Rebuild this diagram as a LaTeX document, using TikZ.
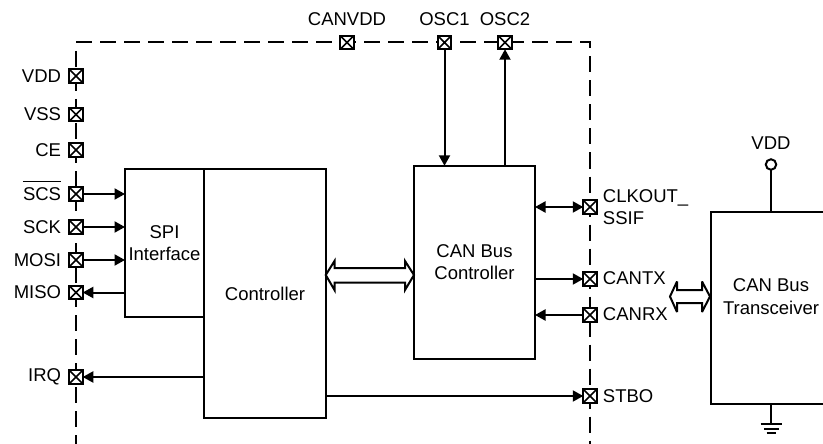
\documentclass[tikz,border=0pt]{standalone}
\usepackage{fontspec}
\setmainfont{Liberation Sans}
\usetikzlibrary{arrows.meta}
\tikzset{
  x=1pt,y=-1pt,
  pin/.style={draw,line width=2pt,fill=white,minimum size=13.5pt,inner sep=0pt,outer sep=0pt,
    path picture={\draw[line width=1.7pt] (path picture bounding box.north west)--(path picture bounding box.south east)
      (path picture bounding box.north east)--(path picture bounding box.south west);}},
  blk/.style={draw,line width=2pt,fill=white,inner sep=0pt,outer sep=0pt,align=center},
  lab/.style={inner sep=0pt,font=\fontsize{18.5}{22.5}\selectfont,align=center},
  sig/.style={line width=2pt,-{Triangle[length=10.5pt,width=11pt]}},
  bisig/.style={line width=2pt,{Triangle[length=10.5pt,width=11pt]}-{Triangle[length=10.5pt,width=11pt]}},
  bound/.style={line width=2pt,dash pattern=on 16pt off 8pt},
  wire/.style={line width=2pt},
  bus/.style={line width=2pt,fill=white,line join=miter,miter limit=4}
}
\begin{document}
\begin{tikzpicture}
\useasboundingbox (0,0) rectangle (823,444);
% boundary
\draw[bound] (76,42.5) -- (590,42.5) -- (590,444);
\draw[bound] (76,51) -- (76,444);
% pins
\foreach \n/\y in {vdd/76,vss/114.5,ce/150,scs/194,sck/227,mosi/260,miso/292.5,irq/377}
  \node[pin] (p\n) at (76,\y) {};
\foreach \n/\x in {canvdd/347,oscone/444.5,osctwo/505}
  \node[pin] (p\n) at (\x,42.5) {};
\foreach \n/\y in {clk/207,tx/279,rx/315,stbo/396}
  \node[pin] (p\n) at (590,\y) {};
% labels left
\foreach \n/\t in {vdd/VDD,vss/VSS,ce/CE,scs/SCS,sck/SCK,mosi/MOSI,miso/MISO,irq/IRQ}
  \node[lab,anchor=east] (l\n) at ([xshift=-8pt]p\n.west) {\t};
\draw[line width=1.5pt] ([yshift=6pt]lscs.north west) -- ([yshift=6pt]lscs.north east);
% labels top
\node[lab,anchor=south] (lcanvdd) at ([yshift=10pt]pcanvdd.north) {CANVDD};
\node[lab,anchor=south] (loscone) at ([yshift=10pt]poscone.north) {OSC1};
\node[lab,anchor=south] (losctwo) at ([yshift=10pt]posctwo.north) {OSC2};
% labels right
\node[lab,anchor=west,align=left] (lclk) at ([xshift=6pt]pclk.east) {CLKOUT\_\\SSIF};
\node[lab,anchor=west] (ltx) at ([xshift=6pt,yshift=1pt]ptx.east) {CANTX};
\node[lab,anchor=west] (lrx) at ([xshift=6pt,yshift=1pt]prx.east) {CANRX};
\node[lab,anchor=west] (lstbo) at ([xshift=6pt]pstbo.east) {STBO};
% blocks
\node[blk,minimum width=79pt,minimum height=148pt] (spi) at (164.5,243) {};
\node[lab] at (spi.center) {SPI\\Interface};
\node[blk,minimum width=121.5pt,minimum height=249.5pt] (ctrl) at (265,293.7) {};
\node[lab] at (ctrl.center) {Controller};
\node[blk,minimum width=121pt,minimum height=193pt] (can) at (474.5,262.3) {};
\node[lab] at (can.center) {CAN Bus\\Controller};
\draw[wire] (830,212) -- (711,212) -- (711,404) -- (830,404);
\coordinate (xcvrtop) at (771,212);
\coordinate (xcvrbot) at (771,404);
\coordinate (xcvrleft) at (710,296.5);
\node[lab] (xcvr) at (771,296.5) {CAN Bus\\Transceiver};
% SPI signals
\draw[sig] (pscs.east) -- (pscs.east -| spi.west);
\draw[sig] (psck.east) -- (psck.east -| spi.west);
\draw[sig] (pmosi.east) -- (pmosi.east -| spi.west);
\draw[sig] (pmiso.east -| spi.west) -- (pmiso.east);
\draw[sig] (pirq.east -| ctrl.west) -- (pirq.east);
\draw[sig] (pstbo.west -| ctrl.east) -- (pstbo.west);
% OSC
\draw[sig] (poscone.south) -- (poscone.south |- can.north);
\draw[sig] (posctwo.south |- can.north) -- (posctwo.south);
% CAN side
\draw[bisig] (pclk.west -| can.east) -- (pclk.west);
\draw[sig] (ptx.west -| can.east) -- (ptx.west);
\draw[sig] (prx.west) -- (prx.west -| can.east);
% hollow buses
\draw[bus] (ctrl.east |- 0,275) -- (334.5,261) -- (334.5,268) -- (405,268) -- (405,261) -- (can.west |- 0,275) -- (405,290) -- (405,282.5) -- (334.5,282.5) -- (334.5,290) -- cycle;
\draw[bus] (670,296.5) -- (677,281.5) -- (677,290) -- (702,290) -- (702,281.5) -- (xcvrleft) -- (702,312) -- (702,303) -- (677,303) -- (677,312) -- cycle;
% VDD
\node[circle,draw,line width=2pt,minimum size=10.5pt,inner sep=0pt,outer sep=0pt,fill=white] (vddc) at (771,164.5) {};
\node[lab,anchor=south] (lv) at ([yshift=10pt]vddc.north) {VDD};
\draw[wire] (vddc.south) -- (xcvrtop);
% ground
\coordinate (gnd) at (771,424);
\draw[wire] (xcvrbot) -- (gnd);
\draw[wire] (760.5,424) -- (782,424);
\draw[wire] (764,428.5) -- (779,428.5);
\draw[wire] (766.5,432.5) -- (776,432.5);
\end{tikzpicture}
\end{document}
